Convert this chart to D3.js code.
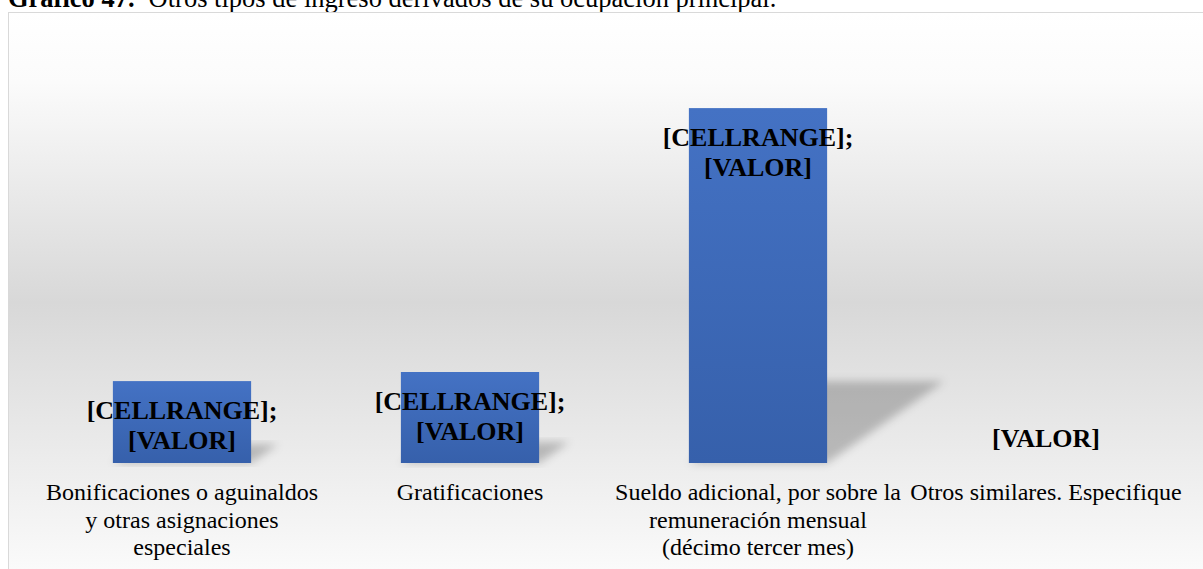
<!DOCTYPE html>
<html>
<head>
<meta charset="utf-8">
<script src="https://cdn.jsdelivr.net/npm/d3@7"></script>
<style>
	html, body { margin: 0; padding: 0; background: #fff; }
	svg { display: block; }
</style>
</head>
<body>
<svg id="chart" width="1203" height="569"></svg>
<script>
// datos del gráfico
var categories = [
	'Bonificaciones o aguinaldos y otras asignaciones especiales',
	'Gratificaciones',
	'Sueldo adicional, por sobre la remuneración mensual (décimo tercer mes)',
	'Otros similares. Especifique'
];
var categoryLines = [
	['Bonificaciones o aguinaldos', 'y otras asignaciones', 'especiales'],
	['Gratificaciones'],
	['Sueldo adicional, por sobre la', 'remuneración mensual', '(décimo tercer mes)'],
	['Otros similares. Especifique']
];
var values = [9, 10, 39, 0];
var labelLines = [
	['[CELLRANGE];', '[VALOR]'],
	['[CELLRANGE];', '[VALOR]'],
	['[CELLRANGE];', '[VALOR]'],
	['[VALOR]']
];

var svg = d3.select('#chart');
var defs = svg.append('defs');

// fondo con degradado
var bg = defs.append('linearGradient')
	.attr('id', 'bgGrad')
	.attr('x1', 0).attr('y1', 0).attr('x2', 0).attr('y2', 1);
bg.append('stop').attr('offset', '0%').attr('stop-color', '#ffffff');
bg.append('stop').attr('offset', '12%').attr('stop-color', '#fbfbfb');
bg.append('stop').attr('offset', '50%').attr('stop-color', '#d8d8d8');
bg.append('stop').attr('offset', '100%').attr('stop-color', '#fdfdfd');

var barGrad = defs.append('linearGradient')
	.attr('id', 'barGrad')
	.attr('x1', 0).attr('y1', 0).attr('x2', 0).attr('y2', 1);
barGrad.append('stop').attr('offset', '0%').attr('stop-color', '#4472c4');
barGrad.append('stop').attr('offset', '100%').attr('stop-color', '#3660ab');

defs.append('filter')
	.attr('id', 'blur')
	.attr('x', '-20%').attr('y', '-20%').attr('width', '140%').attr('height', '140%')
	.append('feGaussianBlur').attr('stdDeviation', 4);

// título (cortado arriba, como en el original)
var title = svg.append('text')
	.attr('x', 8)
	.attr('y', 7)
	.style('font-family', 'Liberation Serif')
	.style('font-size', '26.5px')
	.attr('fill', '#000');
title.append('tspan').style('font-weight', 'bold').text('Gráfico 47.');
title.append('tspan').attr('dx', 14).text('Otros tipos de ingreso derivados de su ocupación principal.');

svg.append('rect')
	.attr('x', 8.5).attr('y', 12.5)
	.attr('width', 1220).attr('height', 580)
	.attr('fill', 'url(#bgGrad)')
	.attr('stroke', '#d9d9d9')
	.attr('stroke-width', 1);

var x = d3.scaleBand()
	.domain(categories)
	.range([38, 1190])
	.paddingInner(0.52)
	.paddingOuter(0.26);

var y = d3.scaleLinear()
	.domain([0, 50])
	.range([463, 8]);

var data = categories.map(function (c, i) {
	return { cat: c, value: values[i], label: labelLines[i], lines: categoryLines[i] };
});

// sombra en perspectiva
var skew = 0.33, squash = 0.23;
svg.selectAll('.shadow')
	.data(data.filter(d => d.value > 0))
	.enter().append('path')
	.attr('class', 'shadow')
	.attr('d', d => {
		var x0 = x(d.cat), x1 = x0 + x.bandwidth();
		var base = y(0), h = y(0) - y(d.value);
		var dx = h * skew, ty = base - h * squash;
		return 'M' + x0 + ',' + base + 'L' + x1 + ',' + base +
			'L' + (x1 + dx) + ',' + ty + 'L' + (x0 + dx) + ',' + ty + 'Z';
	})
	.attr('fill', 'rgba(0,0,0,0.22)')
	.attr('filter', 'url(#blur)');

svg.selectAll('.bar')
	.data(data)
	.enter().append('rect')
	.attr('class', 'bar')
	.attr('x', d => x(d.cat))
	.attr('y', d => y(d.value))
	.attr('width', x.bandwidth())
	.attr('height', d => y(0) - y(d.value))
	.attr('fill', 'url(#barGrad)');

// etiquetas de datos
var lbl = svg.selectAll('.lbl')
	.data(data)
	.enter().append('text')
	.attr('class', 'lbl')
	.attr('text-anchor', 'middle')
	.style('font-family', 'Liberation Serif')
	.style('font-size', '26px')
	.style('font-weight', 'bold')
	.attr('fill', '#000');
lbl.selectAll('tspan')
	.data(d => d.label.map(t => ({ t: t, d: d })))
	.enter().append('tspan')
	.attr('x', o => x(o.d.cat) + x.bandwidth() / 2)
	.attr('y', (o, i) => o.d.value > 0 ? y(o.d.value) + 38 + i * 30 : y(0) - 16)
	.text(o => o.t);

// etiquetas de categoría
var cat = svg.selectAll('.cat')
	.data(data)
	.enter().append('text')
	.attr('class', 'cat')
	.attr('text-anchor', 'middle')
	.style('font-family', 'Liberation Serif')
	.style('font-size', '24px')
	.attr('fill', '#000');
cat.selectAll('tspan')
	.data(d => d.lines.map(t => ({ t: t, d: d })))
	.enter().append('tspan')
	.attr('x', o => x(o.d.cat) + x.bandwidth() / 2)
	.attr('y', (o, i) => 500 + i * 27.5)
	.text(o => o.t);
</script>
</body>
</html>
